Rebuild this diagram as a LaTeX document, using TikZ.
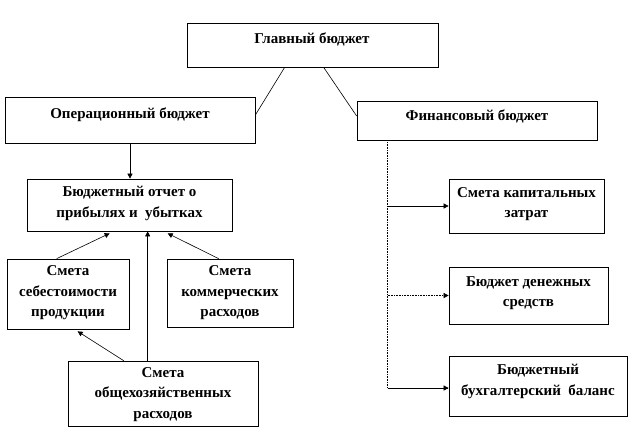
\documentclass[tikz,border=0pt]{standalone}
\usepackage{fontspec}
\setmainfont{Liberation Serif}
\usetikzlibrary{fit,arrows.meta}
\begin{document}
\begin{tikzpicture}[x=1pt,y=-1pt,
  box/.style={draw=black,line width=0.7pt,inner sep=0pt},
  txt/.style={font=\bfseries\fontsize{15}{20.5}\selectfont,align=center,inner sep=0pt},
  conn/.style={draw=black,line width=0.6pt},
  arr/.style={conn,-{Triangle[length=5pt,width=5pt]}},
  dconn/.style={conn,densely dotted}]
\useasboundingbox (0,0) rectangle (635,445);
% boxes
\node[box,fit={(187,23) (438,67)}] (main) {};
\node[txt] (main-t) at (312,39) {Главный бюджет};
\node[box,fit={(5,97) (255,143)}] (oper) {};
\node[txt] (oper-t) at (130,115) {Операционный бюджет};
\node[box,fit={(357,101) (597,140)}] (fin) {};
\node[txt] (fin-t) at (477,116) {Финансовый бюджет};
\node[box,fit={(27,179) (232,231)}] (rep) {};
\node[txt] (rep-t) at (129.5,203.5) {Бюджетный отчет о\\прибылях и\ \ убытках};
\node[box,fit={(7,259) (129,329)}] (seb) {};
\node[txt] (seb-t) at (68,293) {Смета\\себестоимости\\продукции};
\node[box,fit={(167,259) (293,327)}] (com) {};
\node[txt] (com-t) at (230,293) {Смета\\коммерческих\\расходов};
\node[box,fit={(68,361) (258,426)}] (obs) {};
\node[txt] (obs-t) at (163,394.5) {Смета\\общехозяйственных\\расходов};
\node[box,fit={(449,179) (604,233)}] (cap) {};
\node[txt] (cap-t) at (526.5,204) {Смета капитальных\\затрат};
\node[box,fit={(449,267) (608,324)}] (cash) {};
\node[txt] (cash-t) at (528.5,293) {Бюджет денежных\\средств};
\node[box,fit={(449,356) (627,416)}] (bal) {};
\node[txt] (bal-t) at (538,381.5) {Бюджетный\\бухгалтерский\ \ баланс};
% connectors
\draw[conn] ([xshift=98pt]main.south west) -- ([yshift=5pt]oper.east);
\draw[conn] ([xshift=137pt]main.south west) -- ([yshift=4.5pt]fin.west);
\draw[arr] (oper.south) -- (oper.south |- rep.north);
\coordinate (f0) at ([xshift=31pt]fin.south west);
\draw[dconn] (f0) |- ([yshift=-2pt]bal.west);
\draw[arr] (f0 |- cap.west) -- (cap.west);
\draw[arr,densely dotted] (f0 |- cash.west) -- (cash.west);
\draw[arr] ([yshift=-2pt]f0 |- bal.west) -- ([yshift=-2pt]bal.west);
\draw[arr] ([xshift=50pt]seb.north west) -- ([xshift=83pt,yshift=-2pt]rep.south west);
\draw[arr] ([xshift=52pt]com.north west) -- ([xshift=141pt,yshift=-2pt]rep.south west);
\draw[arr] ([xshift=80pt]obs.north west) -- ([xshift=121pt]rep.south west);
\draw[arr] ([xshift=56pt]obs.north west) -- ([xshift=71pt,yshift=-2pt]seb.south west);
\end{tikzpicture}
\end{document}
